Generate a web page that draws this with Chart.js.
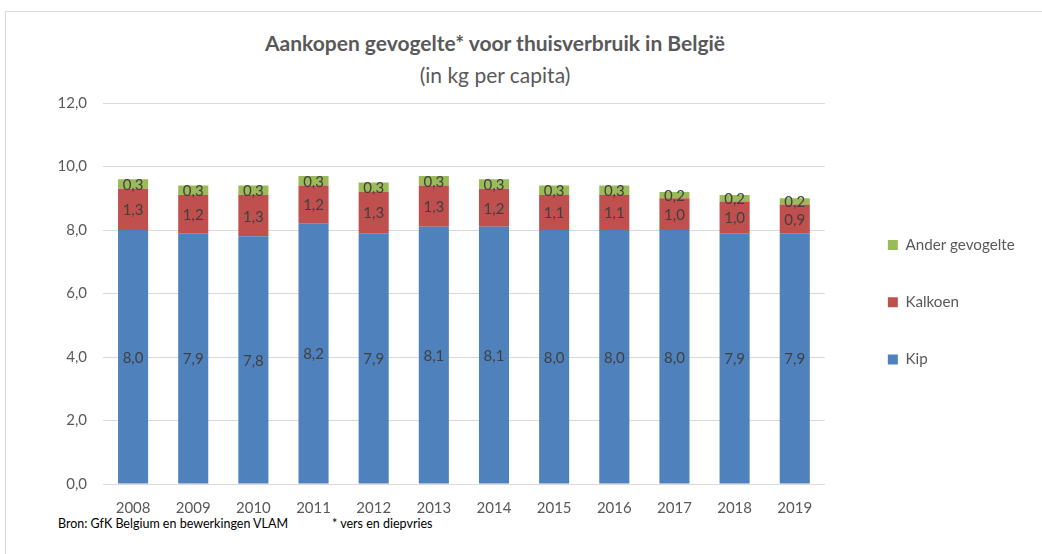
<!DOCTYPE html>
<html>
<head>
<meta charset="utf-8">
<script src="https://cdn.jsdelivr.net/npm/chart.js@4"></script>
<style>
  html, body { margin: 0; padding: 0; background: #fff; }
  body { width: 1042px; height: 554px; position: relative; overflow: hidden; font-family: Lato, "Open Sans", sans-serif; }
  #frame { position: absolute; left: 5px; top: 11px; width: 1100px; height: 600px; border: 1px solid #d9d9d9; box-sizing: border-box; }
  #wrap { position: absolute; left: 0; top: 0; width: 1042px; height: 554px; }
  .txt { position: absolute; color: #595959; white-space: nowrap; }
  #title { left: 495px; top: 30px; transform: translateX(-50%); font-size: 21px; font-weight: bold; }
  #subtitle { left: 495px; top: 62px; transform: translateX(-50%); font-size: 21px; }
  #source { left: 58px; top: 516px; font-size: 12.5px; color: #000; }
  #note { left: 332px; top: 516px; font-size: 12.5px; color: #000; }
</style>
</head>
<body>
<div id="frame"></div>
<div class="txt" id="title">Aankopen gevogelte* voor thuisverbruik in België</div>
<div class="txt" id="subtitle">(in kg per capita)</div>
<div class="txt" id="source">Bron: GfK Belgium en bewerkingen VLAM</div>
<div class="txt" id="note">* vers en diepvries</div>
<div id="wrap"><canvas id="poultryChart" width="1042" height="554"></canvas></div>
<script>
// years on the x axis
const years = ['2008', '2009', '2010', '2011', '2012', '2013', '2014', '2015', '2016', '2017', '2018', '2019'];
// kg per capita, per series
const kip = [8.0, 7.9, 7.8, 8.2, 7.9, 8.1, 8.1, 8.0, 8.0, 8.0, 7.9, 7.9];
const kalkoen = [1.3, 1.2, 1.3, 1.2, 1.3, 1.3, 1.2, 1.1, 1.1, 1.0, 1.0, 0.9];
const anderGevogelte = [0.3, 0.3, 0.3, 0.3, 0.3, 0.3, 0.3, 0.3, 0.3, 0.2, 0.2, 0.2];

const FONT = 'Lato, "Open Sans", sans-serif';

function formatComma(v) {
	return Number(v).toFixed(1).replace('.', ',');
}

// draws the value in the middle of every bar segment
const segmentLabels = {
	id: 'segmentLabels',
	afterDatasetsDraw(chart) {
		const ctx = chart.ctx;
		ctx.save();
		ctx.font = '15px ' + FONT;
		ctx.fillStyle = '#404040';
		ctx.textAlign = 'center';
		ctx.textBaseline = 'middle';
		chart.data.datasets.forEach((ds, i) => {
			const meta = chart.getDatasetMeta(i);
			meta.data.forEach((bar, j) => {
				const y = (bar.y + bar.base) / 2;
				ctx.fillText(formatComma(ds.data[j]), bar.x, y + 1);
			});
		});
		ctx.restore();
	}
};

const ctx = document.getElementById('poultryChart').getContext('2d');
new Chart(ctx, {
	type: 'bar',
	data: {
		labels: years,
		datasets: [
			{ label: 'Kip', data: kip, backgroundColor: '#4F81BD' },
			{ label: 'Kalkoen', data: kalkoen, backgroundColor: '#C0504D' },
			{ label: 'Ander gevogelte', data: anderGevogelte, backgroundColor: '#9BBB59' }
		]
	},
	options: {
		responsive: false,
		animation: false,
		datasets: {
			bar: { barPercentage: 0.5, categoryPercentage: 1.0 }
		},
		layout: { padding: { top: 103, right: 27, bottom: 0, left: 0 } },
		plugins: {
			legend: {
				position: 'right',
				fullSize: false,
				reverse: true,
				// empty title, only nudges the items down a bit
				title: { display: true, text: '', font: { size: 13 }, padding: 1 },
				labels: {
					boxWidth: 10,
					boxHeight: 10,
					padding: 42,
					color: '#595959',
					font: { family: FONT, size: 15.2 }
				}
			},
			tooltip: { enabled: false }
		},
		scales: {
			x: {
				stacked: true,
				grid: { display: false },
				border: { color: '#d9d9d9' },
				ticks: { color: '#595959', padding: 7, font: { family: FONT, size: 15 } },
				afterFit: (scale) => { scale.height = 70; }
			},
			y: {
				stacked: true,
				min: 0,
				max: 12,
				grid: { color: '#d9d9d9', drawTicks: false },
				border: { display: false },
				ticks: {
					stepSize: 2,
					color: '#595959',
					padding: 16,
					font: { family: FONT, size: 15 },
					callback: (v) => formatComma(v)
				},
				afterFit: (scale) => { scale.width = 103; }
			},
			// empty axis, only keeps some room between the bars and the legend
			gap: {
				type: 'linear',
				position: 'right',
				grid: { display: false },
				border: { display: false },
				ticks: { display: false },
				afterFit: (scale) => { scale.width = 21; }
			}
		}
	},
	plugins: [segmentLabels]
});
</script>
</body>
</html>
